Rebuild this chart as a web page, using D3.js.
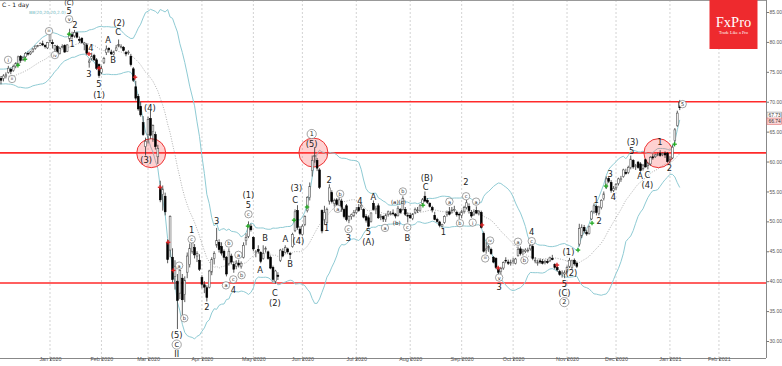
<!DOCTYPE html>
<html><head><meta charset="utf-8">
<script src="https://cdn.jsdelivr.net/npm/d3@7"></script>
<style>html,body{margin:0;padding:0;background:#fff;overflow:hidden}svg{display:block;font-family:"DejaVu Sans","Liberation Sans",Arial,sans-serif}</style>
</head><body><svg id="chart" width="782" height="366"></svg>
<script>
// ---- DATA (Citigroup "C", daily) ----
const nov2019Close = [72.4,73.6,74.3,74.0,75.2,74.9,74.6,74.6,73.8,73.7,74.1,73.7,73.8,73.3,73.2,73.8,74.3,74.6,75.5,75.1];
// [open, high, low, close]
const dec2019 = [[74.6,75.0,73.9,74.2],[73.9,74.3,72.9,73.6],[73.9,74.6,73.4,74.3],[74.4,74.9,73.9,74.5],[74.9,76.0,74.7,75.6],[75.4,75.7,74.6,75.1],[75.2,76.2,75.0,75.9],[75.9,76.6,75.6,76.4],[76.3,77.7,76.1,77.5],[77.6,77.8,76.5,76.9],[77.0,77.6,76.8,77.4],[77.5,78.3,77.3,78.1],[78.1,78.4,77.7,78.0],[78.0,78.5,77.8,78.3],[78.4,79.0,78.2,78.8],[78.9,79.4,78.7,79.3],[79.3,79.5,79.1,79.4],[79.4,79.9,79.3,79.7],[79.7,80.2,79.3,79.5],[79.4,79.6,78.9,79.2],[79.0,80.0,78.8,79.9]];
const jan2020 = [[80.2,81.3,79.8,81.2],[79.9,80.4,78.9,79.7],[78.8,79.5,78.3,79.4],[79.2,79.5,77.9,78.0],[78.1,79.2,77.9,78.9],[79.2,79.6,78.9,79.2],[79.4,79.6,78.2,78.3],[78.4,79.6,78.3,79.5],[80.5,82.2,80.0,81.3],[81.2,81.7,80.4,80.9],[81.0,82.0,80.7,81.6],[81.5,81.7,80.6,80.8],[80.4,80.9,79.8,80.3],[80.6,80.8,79.7,79.9],[79.6,80.0,78.6,79.8],[79.5,79.8,77.8,78.1],[76.6,77.2,75.7,76.8],[77.2,78.2,76.9,77.6],[77.7,78.0,76.8,77.0],[77.0,77.3,75.3,75.6],[76.2,76.4,74.0,74.4]];
const feb2020 = [[74.9,76.0,74.6,75.5],[76.6,77.5,76.3,77.2],[78.2,79.4,77.8,78.8],[78.9,79.1,78.2,78.7],[78.3,78.7,77.8,78.0],[77.9,78.5,77.7,78.3],[78.6,79.5,78.5,79.0],[79.3,80.4,79.1,79.6],[79.2,79.6,78.9,79.2],[79.1,79.3,78.4,78.6],[78.2,78.5,77.6,78.0],[78.2,78.6,77.9,78.3],[77.6,78.0,75.9,76.2],[75.5,75.8,73.3,73.6],[72.5,73.5,70.2,70.6],[70.9,71.3,68.5,68.8],[69.2,70.0,67.5,67.8],[66.5,67.6,64.3,64.5],[62.5,64.0,61.0,63.4]];
const mar2020 = [[64.5,67.5,63.0,67.0],[67.2,68.6,63.8,64.4],[65.0,66.2,63.3,66.0],[64.5,65.0,62.0,62.5],[60.8,62.8,59.6,62.2],[55.5,56.8,53.2,53.6],[54.5,56.0,51.8,55.4],[54.2,54.8,51.0,51.6],[46.4,47.0,43.0,43.6],[45.2,51.0,44.0,50.8],[44.0,45.5,39.8,40.3],[40.8,43.5,38.6,42.5],[40.0,41.2,32.0,36.8],[38.0,43.0,37.0,41.8],[40.5,41.2,34.3,36.9],[37.8,40.8,36.5,40.1],[41.5,44.8,40.5,44.2],[42.8,46.3,42.3,45.5],[45.0,47.6,44.6,47.0],[45.6,46.2,43.8,44.4],[44.2,45.0,43.2,44.6],[43.5,44.5,41.7,42.0]];
const apr2020 = [[40.6,41.0,38.8,39.5],[39.4,40.0,38.0,39.0],[38.9,39.3,36.6,37.3],[39.0,41.9,38.8,41.7],[41.5,44.0,41.0,43.6],[43.8,45.0,42.8,44.6],[46.0,48.9,45.6,46.8],[46.5,47.0,44.8,45.3],[45.8,46.5,44.3,44.7],[45.0,45.3,43.5,44.0],[44.0,44.2,40.8,41.2],[43.0,45.5,42.6,45.0],[44.2,44.6,42.8,43.2],[42.8,43.3,41.4,42.0],[42.5,43.5,42.0,43.0],[43.0,43.6,42.3,42.7],[42.5,43.3,42.1,43.0],[44.0,46.5,43.8,46.0],[46.8,48.0,46.0,47.3],[47.5,50.0,47.2,49.4],[49.2,49.6,48.3,48.6]];
const may2020 = [[47.3,47.5,45.0,45.4],[44.8,45.2,44.0,44.9],[45.3,46.0,44.6,45.0],[44.8,45.0,43.0,43.3],[43.8,46.0,43.6,44.6],[45.3,45.8,44.8,45.5],[44.9,45.1,43.6,43.8],[44.0,44.3,42.0,42.2],[42.3,42.6,39.9,40.3],[40.0,41.9,39.6,41.7],[41.0,41.5,40.2,40.8],[43.5,45.4,43.2,45.2],[45.0,45.5,44.0,44.2],[44.8,46.0,44.6,45.6],[45.4,45.6,44.6,44.9],[44.6,44.9,43.7,44.5],[45.8,48.1,45.6,47.8],[48.5,52.0,48.2,51.6],[51.8,52.7,48.6,49.0],[48.7,49.2,47.7,48.0]];
const jun2020 = [[47.8,49.5,47.6,49.2],[49.5,51.0,49.2,50.8],[51.8,54.2,51.5,54.0],[54.0,56.5,53.5,55.8],[58.5,61.0,57.5,60.2],[60.8,62.4,59.8,61.0],[60.2,60.6,58.4,58.9],[58.6,58.9,55.4,55.7],[51.8,52.0,48.0,48.4],[50.3,52.6,49.4,51.5],[49.8,52.3,49.5,52.0],[53.4,56.2,52.8,55.6],[54.8,55.2,53.0,53.3],[53.0,53.8,52.5,53.5],[53.6,53.9,52.6,52.8],[52.6,54.0,52.3,53.6],[53.4,53.8,51.6,52.0],[52.0,52.3,50.5,50.8],[52.6,52.9,50.0,50.3],[50.2,51.0,49.7,50.8],[50.8,51.3,50.3,51.1],[51.0,51.9,50.7,51.5]];
const jul2020 = [[51.5,52.4,51.2,51.9],[52.3,52.9,51.6,51.8],[52.4,53.0,51.9,52.7],[52.0,52.2,50.5,50.7],[50.8,51.2,49.8,50.2],[50.6,51.0,49.0,49.2],[50.0,51.5,49.8,51.4],[53.0,53.5,51.8,52.0],[52.0,52.6,51.2,52.2],[52.6,53.0,50.4,50.6],[50.7,51.2,50.2,50.8],[50.8,51.0,49.9,50.4],[50.3,51.3,49.9,51.0],[51.2,51.8,50.8,51.6],[51.3,51.7,51.0,51.3],[51.4,52.0,51.0,51.3],[51.2,51.4,50.5,50.9],[51.0,52.6,50.8,52.2],[52.0,52.2,51.3,51.5],[52.0,54.2,51.8,53.8],[52.0,52.4,50.9,51.2],[51.0,51.5,49.8,50.9]];
const aug2020 = [[51.0,51.4,50.4,50.6],[50.5,51.4,50.2,51.2],[51.5,52.3,51.2,52.0],[51.8,52.4,51.4,51.9],[51.8,52.9,51.6,52.6],[53.0,53.9,52.8,53.6],[54.2,55.0,53.2,53.4],[53.5,53.9,52.9,53.2],[53.0,53.2,52.3,52.5],[52.3,52.6,51.5,51.9],[51.0,51.6,50.2,50.3],[50.3,50.6,49.8,50.0],[49.9,50.1,49.0,49.3],[49.2,49.6,49.0,49.5],[49.8,51.0,49.6,50.8],[51.2,51.8,50.8,51.5],[51.6,52.4,51.0,51.2],[51.8,52.4,51.3,51.9],[52.0,52.6,51.6,52.0],[51.5,51.8,50.8,51.1],[51.2,51.5,50.4,51.1]];
const sep2020 = [[51.0,51.9,50.5,51.6],[51.7,52.6,51.3,52.3],[52.3,53.6,52.0,53.1],[52.5,53.0,51.3,51.8],[51.5,51.9,50.6,50.9],[51.2,52.0,50.9,51.6],[51.8,52.5,51.2,51.4],[51.4,51.9,51.0,51.7],[51.5,51.8,48.8,49.0],[48.0,48.3,44.8,45.0],[45.2,46.5,44.6,45.4],[45.5,46.1,44.9,45.8],[45.3,45.6,44.4,44.6],[44.0,44.2,43.0,43.2],[43.8,44.0,42.0,42.3],[42.0,42.4,41.2,41.5],[41.6,42.4,41.2,42.1],[42.2,43.3,41.9,43.1],[43.5,44.0,43.0,43.4],[43.2,43.6,42.7,43.0],[43.0,43.6,42.6,43.1]];
const oct2020 = [[43.3,43.9,42.9,43.4],[43.0,43.9,42.8,43.7],[44.3,45.8,44.1,45.3],[45.4,45.8,44.3,44.6],[45.0,45.4,44.3,45.2],[45.0,45.5,44.7,45.2],[45.1,45.6,44.8,45.2],[45.4,46.3,45.1,46.0],[45.8,46.2,43.5,43.8],[43.5,44.0,43.0,43.5],[43.0,43.6,42.6,43.2],[43.4,43.8,42.9,43.2],[43.3,43.7,42.8,43.0],[43.2,43.6,42.8,43.3],[43.3,43.7,42.9,43.1],[43.4,44.1,43.2,43.9],[43.8,44.4,43.5,43.6],[42.8,43.0,42.0,42.3],[42.3,42.6,41.6,41.9],[41.6,41.9,40.9,41.1],[41.3,41.8,40.6,41.4],[41.2,41.8,40.5,41.4]];
const nov2020 = [[41.6,42.6,41.3,42.3],[42.5,43.9,42.2,43.5],[42.3,43.6,41.9,43.4],[43.5,43.8,42.6,42.9],[43.0,43.3,42.2,42.5],[46.2,49.6,45.8,48.8],[47.6,49.5,47.2,49.0],[49.0,49.4,48.0,48.4],[48.2,48.6,47.6,47.9],[48.0,49.3,47.8,49.1],[50.4,51.8,50.2,51.6],[51.6,53.0,51.3,52.6],[52.5,52.8,51.0,51.5],[51.3,52.6,51.0,52.4],[52.3,53.7,52.0,53.5],[53.8,55.0,53.5,54.6],[55.7,57.5,55.4,57.1],[57.2,57.4,56.4,56.7],[56.5,56.9,54.8,55.2],[55.2,55.9,54.9,55.5]];
const dec2020 = [[55.6,56.4,55.2,56.2],[56.3,57.3,56.0,57.1],[57.0,57.6,56.6,57.1],[57.5,58.8,57.3,58.6],[58.2,58.8,57.8,58.0],[58.2,59.3,57.9,59.0],[59.0,61.0,58.7,60.4],[60.2,60.4,58.8,59.1],[59.2,59.6,58.6,59.3],[59.9,60.1,58.8,59.0],[59.6,59.9,58.3,58.5],[58.8,59.6,58.5,59.4],[60.3,60.5,59.0,59.1],[59.3,59.9,58.7,59.6],[59.6,60.9,59.3,60.7],[60.8,61.3,60.3,60.6],[60.8,61.3,60.6,61.1],[61.1,61.5,60.9,61.2],[61.4,61.9,60.8,61.0],[61.2,61.5,60.9,61.3],[61.4,61.7,60.6,61.1],[61.4,61.6,59.8,60.0]];
const jan2021 = [[60.3,60.9,59.6,60.4],[60.6,62.8,60.4,62.4],[63.5,65.6,63.2,65.3],[66.0,68.5,65.8,68.1],[69.9,70.3,68.6,69.0]];

// axis
const tradingDaysPerMonth = [21,21,19,22,21,20,22,22,21,21,22,20,22,20];
const monthTickLabels = ["Jan 2020","Feb 2020","Mar 2020","Apr 2020","May 2020","Jun 2020","Jul 2020","Aug 2020","Sep 2020","Oct 2020","Nov 2020","Dec 2020","Jan 2021","Feb 2021"];
const priceTicks = [30,35,40,45,50,55,60,65,70,75,80,85];
const levelLines = [70.0, 61.45, 39.7];
const quoteLabels = [67.73, 66.74];
// highlight circles [bar index, price]
const highlights = [[62.3,61.4],[128.5,61.5],[269.3,61.4]];
// signal arrows [bar index, price]
const buySignals = [[7.9,76.1],[10.8,77.1],[28.8,81.3],[101.8,49.2],[120.6,50.2],[125.9,52.4],[173.2,52.7],[236.5,45.2],[242.2,49.7],[247.9,55.9],[275.9,62.9]];
const sellSignals = [[36.9,78.0],[41,75.6],[55.7,74.1],[65.9,55.7],[69.2,46.5],[71.3,41.8],[197.3,49.4],[203.9,42.2],[227.9,42.7]];
// Elliott wave labels [bar index, price, text, kind]
const waveLabels = [
 [3.9,77.0,"i","c"],[5.5,73.8,"ii","c"],[20.6,81.8,"iii","c"],[23,77.8,"iv","c"],[28.8,83.8,"v","c"],
 [28.8,85.1,"5","n"],[28.8,86.6,"(C)","t"],[31.2,82.8,"2","n"],[30,79.6,"1","n"],
 [37.7,78.9,"4","n"],[36.9,74.6,"3","n"],[41,72.9,"5","n"],[41,71.1,"(1)","n"],
 [44.7,80.3,"A","n"],[46.7,76.9,"B","n"],[48.8,81.6,"C","n"],[49.2,83.1,"(2)","n"],
 [61.8,69.0,"(4)","n"],[60.2,60.3,"(3)","n"],
 [73.7,42.6,"a","c"],[72.7,31.0,"(5)","n"],[72.7,29.4,"C","C"],[72.7,27.8,"II","n"],
 [75.8,33.8,"b","c"],[78.8,48.6,"1","n"],[78.8,47.0,"c","c"],[85,35.7,"2","n"],
 [89,50.0,"3","n"],[94,46.3,"b","c"],[92.8,39.3,"a","c"],[95.8,40.3,"c","c"],[95.8,38.6,"4","n"],
 [97.9,44.4,"a","c"],[99.2,41.0,"b","c"],[102,54.4,"(1)","n"],[102,52.8,"5","n"],[102,51.2,"c","c"],
 [106.7,41.9,"A","n"],[108.8,47.2,"B","n"],[117,47.0,"A","n"],[112.8,38.0,"C","n"],[112.8,36.3,"(2)","n"],
 [119,42.9,"B","n"],[122.4,46.8,"(4)","n"],[121,53.6,"C","n"],[121.5,55.5,"(3)","n"],
 [127.8,64.6,"1","C"],[127.8,62.9,"(5)","n"],[134.9,56.9,"2","n"],[133.9,48.9,"1","n"],
 [139.4,54.6,"b","c"],[138.4,52.1,"a","c"],[142.8,48.7,"c","c"],[142.8,47.2,"3","n"],
 [147.5,53.4,"4","n"],[150.9,48.3,"5","n"],[150.9,46.6,"(A)","n"],[153,54.1,"A","n"],
 [157.7,48.9,"a","c"],[162.5,49.8,"(b)","s"],[163.2,53.3,"(a)(c)","s"],[165,55.0,"b","c"],
 [166.8,49.0,"c","c"],[166.8,47.2,"B","n"],[174.3,55.8,"C","n"],[174.8,57.3,"(B)","n"],
 [181.5,48.3,"1","n"],[184,53.3,"a","c"],[188.3,49.7,"b","c"],[190.7,56.6,"2","n"],[190.8,54.2,"c","c"],
 [193.5,49.8,"i","c"],[194.9,53.3,"a","c"],[200.6,46.8,"iv","c"],[198.6,43.8,"iii","c"],
 [204.3,40.6,"v","c"],[204.3,39.0,"3","n"],[212,46.6,"a","c"],[214.6,43.5,"b","c"],
 [217.6,48.3,"4","n"],[217.6,46.7,"c","c"],[230.9,39.6,"5","n"],[230.9,38.0,"(C)","n"],[230.9,36.5,"2","C"],
 [232.6,44.9,"(1)","n"],[233.8,41.3,"(2)","n"],[243.9,53.6,"1","n"],[245.1,50.0,"2","n"],
 [249.6,58.0,"3","n"],[250.9,54.0,"4","n"],[258.4,61.8,"5","n"],[258.8,63.3,"(3)","n"],
 [261.8,57.6,"A","n"],[264.8,57.7,"C","n"],[264.8,56.1,"(4)","n"],[269.9,63.3,"1","n"],[273.8,58.9,"2","n"],
 [279.2,69.6,"5","c"]
];

// ---- BUILD ----
const months = [dec2019,jan2020,feb2020,mar2020,apr2020,may2020,jun2020,jul2020,aug2020,sep2020,oct2020,nov2020,dec2020,jan2021];
const bars = [].concat(...months).map((d,i)=>({i,o:d[0],h:d[1],l:d[2],c:d[3]}));
const allClose = nov2019Close.concat(bars.map(b=>b.c));
const off = nov2019Close.length;
const bb = bars.map(b=>{
  const w = allClose.slice(b.i+off-19, b.i+off+1);
  const m = d3.mean(w);
  const sd = Math.sqrt(d3.mean(w.map(v=>(v-m)*(v-m))));
  return {i:b.i, m, u:m+2*sd, lo:m-2*sd};
});
const monthStarts = [];
let acc = 0;
tradingDaysPerMonth.forEach(n=>{acc+=n; monthStarts.push(acc);});

const W=766, H=358;
const x = d3.scaleLinear().domain([0.592, 313.2]).range([0, W]);
const y = d3.scaleLinear().domain([30, 85]).range([341, 12]);

const svg = d3.select("#chart");
svg.append("defs").append("clipPath").attr("id","clip").append("rect").attr("x",0).attr("y",0).attr("width",W).attr("height",H);

// month grid
svg.append("g").selectAll("line").data(monthStarts).join("line")
  .attr("x1",d=>x(d)).attr("x2",d=>x(d)).attr("y1",0).attr("y2",H)
  .attr("stroke","#c8c8c8").attr("stroke-width",0.8).attr("stroke-dasharray","2,2");

// frame
svg.append("line").attr("x1",0).attr("x2",W).attr("y1",0.5).attr("y2",0.5).attr("stroke","#999");
svg.append("line").attr("x1",W+0.5).attr("x2",W+0.5).attr("y1",0).attr("y2",H).attr("stroke","#888");
svg.append("line").attr("x1",0).attr("x2",W).attr("y1",H+0.5).attr("y2",H+0.5).attr("stroke","#888");

const plot = svg.append("g").attr("clip-path","url(#clip)");

// red level lines
plot.selectAll(".lvl").data(levelLines).join("line")
  .attr("x1",0).attr("x2",W).attr("y1",d=>y(d)).attr("y2",d=>y(d))
  .attr("stroke","#ff2a2a").attr("stroke-width",1.6);

// bollinger
const lineU = d3.line().x(d=>x(d.i)).y(d=>y(d.u));
const lineL = d3.line().x(d=>x(d.i)).y(d=>y(d.lo));
const lineM = d3.line().x(d=>x(d.i)).y(d=>y(d.m));
plot.append("path").attr("d",lineU(bb)).attr("fill","none").attr("stroke","#8fcbd4").attr("stroke-width",1);
plot.append("path").attr("d",lineL(bb)).attr("fill","none").attr("stroke","#8fcbd4").attr("stroke-width",1);
plot.append("path").attr("d",lineM(bb)).attr("fill","none").attr("stroke","#9a9a9a").attr("stroke-width",0.8).attr("stroke-dasharray","1,1.5");

// highlight circles
plot.selectAll(".hl").data(highlights).join("circle")
  .attr("cx",d=>x(d[0])).attr("cy",d=>y(d[1])).attr("r",14.5)
  .attr("fill","rgba(255,90,90,0.28)").attr("stroke","#ee3333").attr("stroke-width",1);

// candles
const cg = plot.append("g");
cg.selectAll(".wick").data(bars).join("line")
  .attr("x1",d=>x(d.i)).attr("x2",d=>x(d.i)).attr("y1",d=>y(d.h)).attr("y2",d=>y(d.l))
  .attr("stroke","#333").attr("stroke-width",0.8);
cg.selectAll(".body").data(bars).join("rect")
  .attr("x",d=>x(d.i)-0.9).attr("width",1.8)
  .attr("y",d=>y(Math.max(d.o,d.c)))
  .attr("height",d=>Math.max(0.8, Math.abs(y(d.o)-y(d.c))))
  .attr("fill",d=>d.c>=d.o?"#fff":"#000")
  .attr("stroke",d=>d.c>=d.o?"#555":"#000").attr("stroke-width",0.6);

// signals
function plus(g, data, col){
  const s = g.selectAll(null).data(data).join("g").attr("transform",d=>`translate(${x(d[0])},${y(d[1])})`);
  s.append("line").attr("x1",-2.2).attr("x2",2.2).attr("y1",0).attr("y2",0).attr("stroke",col).attr("stroke-width",1.3);
  s.append("line").attr("x1",0).attr("x2",0).attr("y1",-2.2).attr("y2",2.2).attr("stroke",col).attr("stroke-width",1.3);
}
plus(plot, buySignals, "#22aa22");
plus(plot, sellSignals, "#dd2222");

// wave labels
const lg = svg.append("g");
waveLabels.forEach(d=>{
  const px = x(d[0]), py = y(d[1]);
  if(d[3]==="c" || d[3]==="C"){
    const r = d[3]==="C"?4.6:3.7;
    lg.append("circle").attr("cx",px).attr("cy",py).attr("r",r).attr("fill","#fff").attr("stroke","#666").attr("stroke-width",0.6);
    lg.append("text").attr("x",px).attr("y",py).attr("text-anchor","middle").attr("dominant-baseline","central")
      .attr("font-size", d[3]==="C"?6.5:(d[2].length>2?3.6:(d[2].length>1?4.2:5))).attr("fill","#222").text(d[2]);
  } else if(d[3]==="t"){
    lg.append("text").attr("x",px).attr("y",3.2).attr("text-anchor","middle").attr("dominant-baseline","central")
      .attr("font-size",6.5).attr("fill","#222").text(d[2]);
  } else {
    lg.append("text").attr("x",px).attr("y",py).attr("text-anchor","middle").attr("dominant-baseline","central")
      .attr("font-size", d[3]==="s"?5.5:8.3).attr("fill","#222").text(d[2]);
  }
});

// right axis
const ya = svg.append("g").attr("transform",`translate(${W+0.5},0)`)
  .call(d3.axisRight(y).tickValues(priceTicks).tickFormat(d3.format(".2f")).tickSize(2.5));
ya.select(".domain").remove();
ya.selectAll("text").attr("font-size",5).attr("font-family","'Liberation Sans',Arial,sans-serif").attr("fill","#555").attr("x",3);
ya.selectAll("line").attr("stroke","#777");

// quote labels
quoteLabels.forEach((q,k)=>{
  const g = svg.append("g").attr("transform",`translate(${W+1},${y(q)})`);
  g.append("rect").attr("x",0).attr("y",-3.2).attr("width",14.5).attr("height",6.4)
    .attr("fill",k===0?"#fff":"#fbd3d3").attr("stroke",k===0?"#888":"#e07070").attr("stroke-width",0.6);
  g.append("text").attr("x",1.5).attr("y",0).attr("dominant-baseline","central").attr("font-size",4.9)
    .attr("font-family","'Liberation Sans',Arial,sans-serif").attr("fill","#333").text(d3.format(".2f")(q));
});

// bottom axis
const xa = svg.append("g").attr("transform",`translate(0,${H+0.5})`)
  .call(d3.axisBottom(x).tickValues(monthStarts).tickFormat((d,i)=>monthTickLabels[i]).tickSize(2));
xa.select(".domain").remove();
xa.selectAll("text").attr("font-size",5.4).attr("fill","#555").attr("dy","0.1em").attr("y",2);
xa.selectAll("line").attr("stroke","#777");

// title & indicator
svg.append("text").attr("x",2).attr("y",7).attr("font-size",6).attr("fill","#111").text("C - 1 day");
svg.append("text").attr("x",29).attr("y",14).attr("font-size",4.3).attr("fill","#6fb6c0").text("BB(20,20,20,2.0)");

// FxPro logo
const logo = svg.append("g");
logo.append("rect").attr("x",709.5).attr("y",0).attr("width",48).attr("height",49).attr("fill","#ee2a2e");
logo.append("text").attr("x",733.5).attr("y",27).attr("text-anchor","middle").attr("font-family","'Liberation Serif','DejaVu Serif',serif")
  .attr("font-size",14.5).attr("fill","#fff").text("FxPro");
logo.append("text").attr("x",733.5).attr("y",33.5).attr("text-anchor","middle").attr("font-family","'Liberation Serif',serif")
  .attr("font-size",4.3).attr("fill","#fff").text("Trade Like a Pro");
</script></body></html>
